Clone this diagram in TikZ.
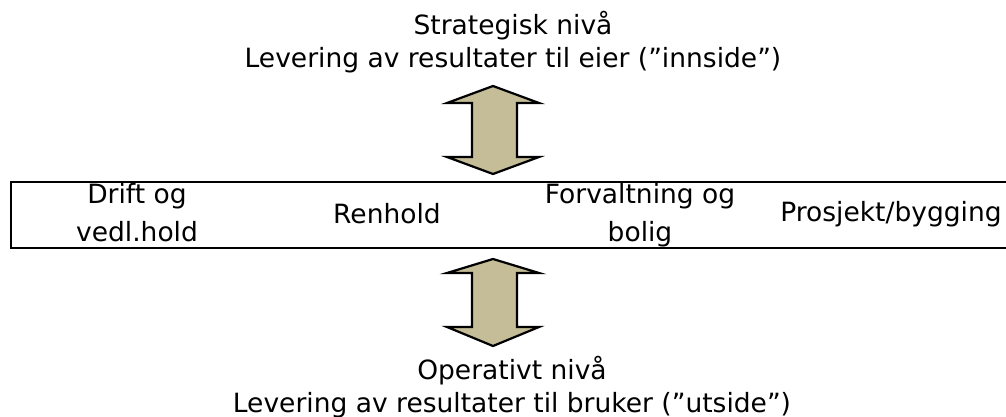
\documentclass[tikz,border=0pt]{standalone}
\usepackage{fontspec}
\setmainfont{DejaVu Sans}
\definecolor{tan}{HTML}{C4BD97}
\tikzset{
  lbl/.style={font=\fontsize{26.5}{33}\selectfont, align=center, inner sep=0pt, anchor=base},
  boxlbl/.style={font=\fontsize{26.5}{38}\selectfont, align=center, inner sep=0pt, anchor=base},
  dblarrow/.style={draw=black, line width=2.2pt, fill=tan, line join=miter},
}
\begin{document}
\begin{tikzpicture}[x=1pt,y=-1pt]
\useasboundingbox (0,0) rectangle (1006,417);
\node[lbl] (top) at (513,68) {Strategisk nivå\\Levering av resultater til eier (”innside”)};
\draw[dblarrow] (493,86) -- (539,103) -- (517,103) -- (517,157) -- (539,157) -- (493,174) -- (447,157) -- (472,157) -- (472,103) -- (447,103) -- cycle;
\draw[line width=2.6pt] (1012,182) -- (11,182) -- (11,248) -- (1012,248);
\node[boxlbl] (drift) at (137,241) {Drift og\\vedl.hold};
\node[boxlbl] (ren) at (387,223) {Renhold};
\node[boxlbl] (forv) at (640,241) {Forvaltning og\\bolig};
\node[boxlbl] (pros) at (891,221) {Prosjekt/bygging};
\draw[dblarrow] (493,259) -- (539,273) -- (517,273) -- (517,327) -- (539,327) -- (493,346) -- (447,327) -- (472,327) -- (472,273) -- (447,273) -- cycle;
\node[lbl] (bot) at (512,412) {Operativt nivå\\Levering av resultater til bruker (”utside”)};
\end{tikzpicture}
\end{document}
